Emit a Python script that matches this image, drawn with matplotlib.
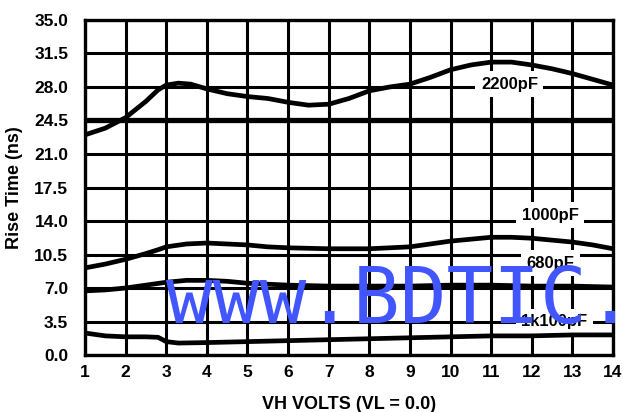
import matplotlib
matplotlib.use("Agg")
import matplotlib.pyplot as plt

# valori (VH volts -> rise time ns)
x_2200 = [1, 1.5, 2, 2.5, 2.8, 3, 3.3, 3.6, 4, 4.5, 5, 5.5, 6, 6.5, 7, 7.5, 8, 8.5, 9, 9.5, 10, 10.5, 11, 11.5, 12, 12.5, 13, 13.5, 14]
y_2200 = [23.0, 23.7, 24.8, 26.5, 27.7, 28.2, 28.4, 28.3, 27.8, 27.3, 27.0, 26.8, 26.4, 26.1, 26.2, 26.8, 27.6, 28.0, 28.3, 29.0, 29.8, 30.3, 30.6, 30.6, 30.3, 29.9, 29.4, 28.8, 28.2]

x_1000 = [1, 1.5, 2, 2.5, 2.8, 3, 3.5, 4, 4.5, 5, 5.5, 6, 7, 8, 8.5, 9, 9.5, 10, 10.5, 11, 11.5, 12, 12.5, 13, 13.5, 14]
y_1000 = [9.1, 9.5, 10.0, 10.6, 11.0, 11.3, 11.6, 11.7, 11.6, 11.5, 11.3, 11.2, 11.1, 11.1, 11.2, 11.3, 11.6, 11.9, 12.1, 12.3, 12.3, 12.2, 12.0, 11.8, 11.5, 11.1]

x_680 = [1, 1.5, 2, 2.5, 3, 3.5, 4, 4.5, 5, 6, 7, 8, 9, 10, 11, 12, 13, 14]
y_680 = [6.7, 6.8, 7.0, 7.3, 7.6, 7.8, 7.8, 7.7, 7.5, 7.3, 7.2, 7.2, 7.2, 7.3, 7.3, 7.2, 7.2, 7.1]

x_100 = [1, 1.5, 2, 2.5, 2.8, 3, 3.3, 4, 5, 6, 7, 8, 9, 10, 11, 12, 13, 14]
y_100 = [2.3, 2.0, 1.9, 1.9, 1.85, 1.4, 1.25, 1.3, 1.4, 1.5, 1.6, 1.7, 1.8, 1.9, 2.0, 2.0, 2.1, 2.1]

series = [(x_2200, y_2200), (x_1000, y_1000), (x_680, y_680), (x_100, y_100)]

# etichette delle curve
labels = ["2200pF", "1000pF", "680pF", "1k100pF"]
label_pos = [(11.45, 28.3), (12.45, 14.6), (12.45, 9.6), (12.55, 3.5)]

xticks = list(range(1, 15))
yticks = [0.0, 3.5, 7.0, 10.5, 14.0, 17.5, 21.0, 24.5, 28.0, 31.5, 35.0]

fig = plt.figure(figsize=(6.23, 4.12), dpi=100)
ax = fig.add_axes([0.1364, 0.1383, 0.8476, 0.8132])

ax.set_xlim(1, 14)
ax.set_ylim(0, 35)
ax.set_xticks(xticks)
ax.set_yticks(yticks)
ax.set_xticklabels([str(t) for t in xticks])
ax.set_yticklabels(["%.1f" % t for t in yticks])
ax.tick_params(length=0, labelsize=12.5, pad=7)
ax.tick_params(axis="y", pad=12)
for lab in ax.get_xticklabels() + ax.get_yticklabels():
    lab.set_fontweight("bold")
    lab.set_fontfamily("Liberation Sans")

ax.grid(True, color="black", linewidth=2.2, zorder=1)
ax.set_axisbelow(True)
# linea piu' spessa a 24.5
ax.axhline(yticks[7], color="black", linewidth=3.8, zorder=1.5)

for s in ax.spines.values():
    s.set_linewidth(2.4)
    s.set_zorder(5)

for xs, ys in series:
    ax.plot(xs, ys, color="black", linewidth=3.4, solid_capstyle="round", zorder=4)

for txt, (lx, ly) in zip(labels, label_pos):
    ax.text(lx, ly, txt, ha="center", va="center", fontsize=12, fontweight="bold",
            family="Liberation Sans", zorder=3,
            bbox=dict(facecolor="white", edgecolor="none", pad=4))

ax.set_xlabel("VH VOLTS (VL = 0.0)", fontsize=13, fontweight="bold",
              family="Liberation Sans", labelpad=12)
ax.set_ylabel("Rise Time (ns)", fontsize=13, fontweight="bold",
              family="Liberation Sans", labelpad=8)

# watermark blu
fig.text(166 / 623, 1 - 323 / 412, "www.BDTIC.com", fontsize=56, color="#4156ff",
         family="DejaVu Sans Mono", ha="left", va="baseline", zorder=10)

fig.savefig("out.png", dpi=100)
